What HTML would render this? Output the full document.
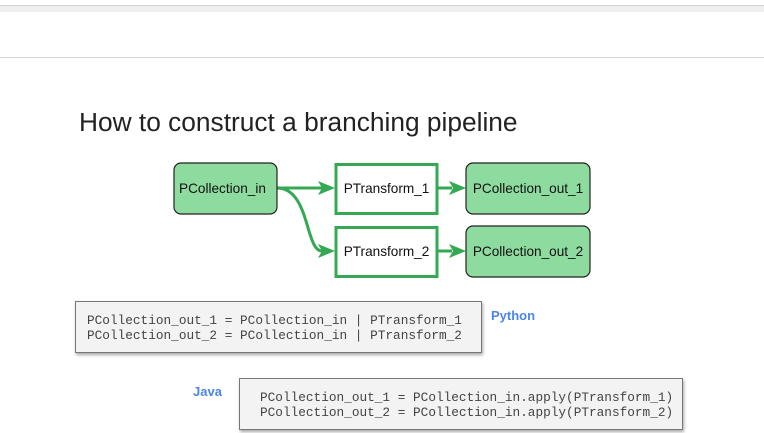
<!DOCTYPE html>
<html><head><style>
body{margin:0;width:764px;height:433px;background:#fff;position:relative;overflow:hidden;font-family:"Liberation Sans",sans-serif}
.a{position:absolute}
.code{position:absolute;background:#f3f3f3;border:1.5px solid #777;box-shadow:1px 2px 3px rgba(0,0,0,.35);font-family:"Liberation Mono",monospace;font-size:12.75px;line-height:15px;color:#444;box-sizing:border-box;white-space:pre}
.lbl{position:absolute;color:#4a86e8;font-weight:bold;font-size:13px}
</style></head><body>
<div class="a" style="left:0;top:5px;width:764px;height:1px;background:#cfd1d6"></div>
<div class="a" style="left:0;top:6px;width:764px;height:6px;background:#efefef"></div>
<div class="a" style="left:0;top:57px;width:764px;height:1px;background:#d6d6d6"></div>
<div class="a" style="left:79px;top:107px;font-size:26.3px;color:#222">How to construct a branching pipeline</div>
<svg class="a" style="left:0;top:0" width="764" height="300">
<g stroke="#34a853" stroke-width="3" fill="none">
<path d="M277 188 L322 188"/>
<path d="M277 188 C310 188 305 251 322 251"/>
<path d="M437 188 L452 188"/>
<path d="M437 251 L452 251"/>
</g>
<g fill="#34a853">
<path d="M335 188 L318 181 L322 188 L318 195Z"/>
<path d="M335 251 L318 244 L322 251 L318 258Z"/>
<path d="M466 188 L449 181 L453 188 L449 195Z"/>
<path d="M466 251 L449 244 L453 251 L449 258Z"/>
</g>
<g font-family="Liberation Sans" font-size="13.6" fill="#111">
<rect x="174" y="163" width="103" height="51" rx="7" fill="#8edb9f" stroke="#222" stroke-width="1.2"/>
<text x="179" y="193">PCollection_in</text>
<rect x="336" y="164.5" width="101" height="49" fill="#fff" stroke="#34a853" stroke-width="3"/>
<text x="386.5" y="193" text-anchor="middle">PTransform_1</text>
<rect x="336" y="227.5" width="101" height="49" fill="#fff" stroke="#34a853" stroke-width="3"/>
<text x="386.5" y="256" text-anchor="middle">PTransform_2</text>
<rect x="466" y="163" width="124" height="51" rx="7" fill="#8edb9f" stroke="#222" stroke-width="1.2"/>
<text x="528" y="193" text-anchor="middle">PCollection_out_1</text>
<rect x="466" y="226" width="124" height="51" rx="7" fill="#8edb9f" stroke="#222" stroke-width="1.2"/>
<text x="528" y="256" text-anchor="middle">PCollection_out_2</text>
</g>
</svg>
<div class="code" style="left:75px;top:301px;width:407px;height:52px;padding:11px 0 0 11px">PCollection_out_1 = PCollection_in | PTransform_1
PCollection_out_2 = PCollection_in | PTransform_2</div>
<div class="lbl" style="left:491px;top:308px">Python</div>
<div class="lbl" style="left:193px;top:384px">Java</div>
<div class="code" style="left:239px;top:378px;width:444px;height:52px;padding:11px 0 0 20px">PCollection_out_1 = PCollection_in.apply(PTransform_1)
PCollection_out_2 = PCollection_in.apply(PTransform_2)</div>
</body></html>
